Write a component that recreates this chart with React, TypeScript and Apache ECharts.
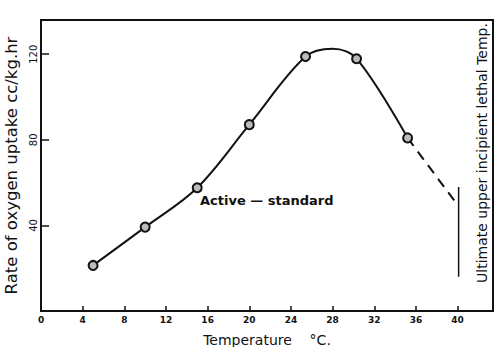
import React, { useEffect, useRef } from "react";
import * as echarts from "echarts";

// observed points (temperature °C, oxygen uptake cc/kg.hr)
const temps = [5, 10, 15, 20, 25.4, 30.3, 35.2];
const uptake = [21.3, 39.2, 57.6, 87.1, 118.9, 117.9, 80.9];
// hand-drawn curve apex
const apexTemp = 28;
const apexUptake = 122.6;
const extrapolated = [
  [35.2, 80.9],
  [39.7, 51.5],
];
const lethalLine = [
  [40.1, 58],
  [40.1, 16],
];
const xTicks = [0, 4, 8, 12, 16, 20, 24, 28, 32, 36, 40];
const yTicks = [40, 80, 120];

const INK = "#111";
const FONT = "DejaVu Sans";

export default function App() {
  const ref = useRef<HTMLDivElement>(null);
  useEffect(() => {
    if (!ref.current) return;
    const chart = echarts.init(ref.current, undefined, { renderer: "svg" });
    const points = temps.map((t, i) => [t, uptake[i]]);
    const curve = [...points.slice(0, 5), [apexTemp, apexUptake], ...points.slice(5)];
    chart.setOption({
      animation: false,
      backgroundColor: "#fff",
      grid: {
        left: 41,
        right: 7,
        top: 20,
        bottom: 36,
        containLabel: false,
        outerBoundsMode: "none",
        show: true,
        borderColor: INK,
        borderWidth: 2,
      },
      xAxis: {
        type: "value",
        min: 0,
        max: 43.4,
        interval: 4,
        name: "Temperature    °C.",
        nameLocation: "middle",
        nameGap: 22,
        nameTextStyle: { fontFamily: FONT, fontSize: 14, color: INK },
        axisLine: { show: true, lineStyle: { color: INK, width: 2 } },
        axisTick: { show: true, inside: true, length: 5, lineStyle: { color: INK, width: 1.5 } },
        splitLine: { show: false },
        axisLabel: {
          margin: 4,
          fontFamily: FONT,
          fontWeight: "bold",
          fontSize: 9,
          color: INK,
          showMaxLabel: false,
          formatter: (v: number) => (xTicks.includes(v) ? String(v) : ""),
        },
      },
      yAxis: {
        type: "value",
        min: 0,
        max: 136,
        interval: 40,
        name: "Rate of oxygen uptake cc/kg.hr",
        nameLocation: "middle",
        nameGap: 21,
        nameRotate: 90,
        nameTextStyle: { fontFamily: FONT, fontSize: 16.5, color: INK },
        axisLine: { show: true, lineStyle: { color: INK, width: 2 } },
        axisTick: { show: true, inside: true, length: 8, lineStyle: { color: INK, width: 1.5 } },
        splitLine: { show: false },
        axisLabel: {
          rotate: 90,
          margin: 3,
          fontFamily: FONT,
          fontSize: 10,
          color: INK,
          showMinLabel: false,
          showMaxLabel: false,
          formatter: (v: number) => (yTicks.includes(v) ? String(v) : ""),
        },
      },
      series: [
        {
          type: "line",
          data: curve,
          smooth: 0.35,
          symbol: "none",
          lineStyle: { color: INK, width: 2 },
          z: 2,
        },
        {
          type: "scatter",
          data: points,
          symbol: "circle",
          symbolSize: 9,
          itemStyle: { color: "#bbb", borderColor: INK, borderWidth: 2, opacity: 1 },
          z: 3,
        },
        {
          type: "line",
          data: extrapolated,
          symbol: "none",
          lineStyle: { color: INK, width: 2, type: [10, 7] },
        },
        {
          type: "line",
          data: lethalLine,
          symbol: "none",
          lineStyle: { color: INK, width: 1.5 },
        },
      ],
      graphic: [
        {
          type: "text",
          left: 200,
          top: 194,
          style: {
            text: "Active — standard",
            fontFamily: FONT,
            fontSize: 13,
            fontWeight: "bold",
            fill: INK,
          },
        },
        {
          type: "text",
          x: 482,
          y: 153,
          rotation: Math.PI / 2,
          style: {
            text: "Ultimate upper incipient lethal Temp.",
            fontFamily: FONT,
            fontSize: 14,
            fill: INK,
            align: "center",
            verticalAlign: "middle",
          },
        },
      ],
    });
    return () => chart.dispose();
  }, []);
  return (
    <div
      ref={ref}
      style={{ position: "fixed", left: 0, top: 0, width: 500, height: 347 }}
    />
  );
}
